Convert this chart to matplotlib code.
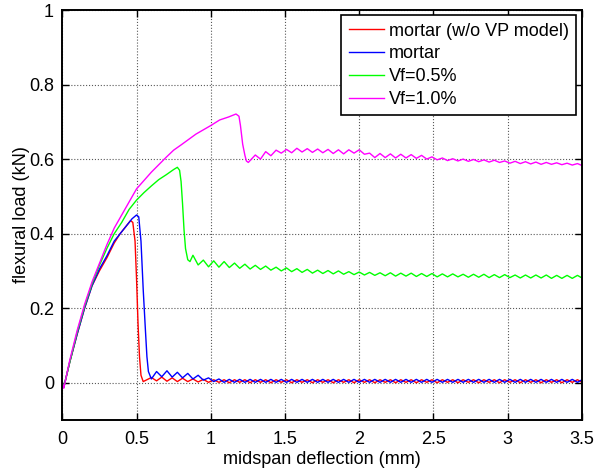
import matplotlib
matplotlib.use('Agg')
import matplotlib.pyplot as plt

# shared deflection grid for the oscillating tails (mm)
tail_x = [0.600, 0.635, 0.670, 0.705, 0.740, 0.775, 0.810, 0.845, 0.880, 0.915, 0.950, 0.985,
          1.020, 1.055, 1.090, 1.125, 1.160, 1.195, 1.230, 1.265, 1.300, 1.335, 1.370, 1.405,
          1.440, 1.475, 1.510, 1.545, 1.580, 1.615, 1.650, 1.685, 1.720, 1.755, 1.790, 1.825,
          1.860, 1.895, 1.930, 1.965, 2.000, 2.035, 2.070, 2.105, 2.140, 2.175, 2.210, 2.245,
          2.280, 2.315, 2.350, 2.385, 2.420, 2.455, 2.490, 2.525, 2.560, 2.595, 2.630, 2.665,
          2.700, 2.735, 2.770, 2.805, 2.840, 2.875, 2.910, 2.945, 2.980, 3.015, 3.050, 3.085,
          3.120, 3.155, 3.190, 3.225, 3.260, 3.295, 3.330, 3.365, 3.400, 3.435, 3.470, 3.505]

# mortar (w/o VP model)
red_head_x = [0, 0.01, 0.05, 0.10, 0.15, 0.20, 0.25, 0.30, 0.35, 0.39, 0.43, 0.46,
              0.475, 0.49, 0.50, 0.51, 0.52, 0.53, 0.545]
red_head_y = [0, -0.012, 0.055, 0.13, 0.20, 0.26, 0.30, 0.335, 0.375, 0.40, 0.42, 0.435,
              0.43, 0.38, 0.28, 0.16, 0.07, 0.02, 0.003]
red_tail_y = [0.014, 0.005, 0.015, 0.004, 0.013, 0.003, 0.012, 0.003, 0.010, 0.002, 0.009, 0.001,
              0.008, 0.001, 0.008, 0.000, 0.008, 0.001, 0.008, 0.000, 0.008, 0.001, 0.008, 0.000,
              0.008, 0.001, 0.008, 0.000, 0.008, 0.001, 0.008, 0.000, 0.008, 0.001, 0.008, 0.000,
              0.008, 0.001, 0.008, 0.000, 0.008, 0.001, 0.008, 0.000, 0.008, 0.001, 0.008, 0.000,
              0.008, 0.001, 0.008, 0.000, 0.008, 0.001, 0.008, 0.000, 0.008, 0.001, 0.008, 0.000,
              0.008, 0.001, 0.008, 0.000, 0.008, 0.001, 0.008, 0.000, 0.008, 0.001, 0.008, 0.000,
              0.008, 0.001, 0.008, 0.000, 0.008, 0.001, 0.008, 0.000, 0.008, 0.001, 0.008, 0.000]

# mortar
blue_head_x = [0, 0.01, 0.05, 0.10, 0.15, 0.20, 0.25, 0.30, 0.35, 0.40, 0.44, 0.47,
               0.50, 0.515, 0.53, 0.545, 0.56, 0.57, 0.58]
blue_head_y = [0, -0.012, 0.055, 0.13, 0.20, 0.26, 0.305, 0.34, 0.38, 0.405, 0.425, 0.44,
               0.45, 0.445, 0.38, 0.25, 0.14, 0.07, 0.03]
blue_tail_y = [0.010, 0.030, 0.016, 0.032, 0.015, 0.028, 0.013, 0.025, 0.010, 0.020, 0.007, 0.013,
               0.003, 0.010, 0.001, 0.009, 0.001, 0.009, 0.001, 0.009, 0.001, 0.009, 0.001, 0.009,
               0.001, 0.009, 0.001, 0.009, 0.001, 0.009, 0.001, 0.009, 0.001, 0.009, 0.001, 0.009,
               0.001, 0.009, 0.001, 0.009, 0.001, 0.009, 0.001, 0.009, 0.001, 0.009, 0.001, 0.009,
               0.001, 0.009, 0.001, 0.009, 0.001, 0.009, 0.001, 0.009, 0.001, 0.009, 0.001, 0.009,
               0.001, 0.009, 0.001, 0.009, 0.001, 0.009, 0.001, 0.009, 0.001, 0.009, 0.001, 0.009,
               0.001, 0.009, 0.001, 0.009, 0.001, 0.009, 0.001, 0.009, 0.001, 0.009, 0.001, 0.009]

# Vf=0.5%
green_head_x = [0, 0.01, 0.05, 0.10, 0.15, 0.20, 0.25, 0.30, 0.35, 0.40, 0.45, 0.50, 0.55,
                0.60, 0.65, 0.70, 0.75, 0.775, 0.79, 0.80, 0.81, 0.82, 0.83, 0.845, 0.86]
green_head_y = [0, -0.012, 0.055, 0.135, 0.205, 0.265, 0.315, 0.36, 0.40, 0.43, 0.465, 0.49, 0.51,
                0.528, 0.545, 0.558, 0.572, 0.578, 0.57, 0.54, 0.48, 0.41, 0.36, 0.33, 0.325]
green_tail_y = [0.342, 0.316, 0.329, 0.311, 0.327, 0.310, 0.325, 0.309, 0.321, 0.307, 0.318, 0.305,
                0.315, 0.304, 0.313, 0.302, 0.310, 0.300, 0.308, 0.298, 0.306, 0.296, 0.304, 0.294,
                0.302, 0.293, 0.301, 0.292, 0.300, 0.291, 0.298, 0.290, 0.297, 0.289, 0.296, 0.288,
                0.295, 0.287, 0.295, 0.286, 0.294, 0.286, 0.294, 0.285, 0.293, 0.285, 0.293, 0.284,
                0.292, 0.284, 0.292, 0.284, 0.291, 0.283, 0.291, 0.283, 0.291, 0.282, 0.290, 0.282,
                0.290, 0.282, 0.289, 0.281, 0.289, 0.281, 0.289, 0.281, 0.289, 0.280, 0.288, 0.280,
                0.288, 0.280, 0.288, 0.280]

# Vf=1.0%
mag_head_x = [0, 0.01, 0.05, 0.10, 0.15, 0.20, 0.25, 0.30, 0.35, 0.40, 0.45, 0.50, 0.60,
              0.70, 0.75, 0.80, 0.90, 1.00, 1.06, 1.12, 1.17, 1.19, 1.20, 1.215, 1.23, 1.24, 1.253]
mag_head_y = [0, -0.015, 0.06, 0.14, 0.21, 0.27, 0.32, 0.37, 0.415, 0.45, 0.485, 0.52, 0.565,
              0.605, 0.624, 0.638, 0.667, 0.69, 0.705, 0.713, 0.721, 0.715, 0.69, 0.64, 0.61, 0.595, 0.591]
mag_tail_y = [0.611, 0.600, 0.620, 0.609, 0.624, 0.616, 0.626, 0.617, 0.629, 0.619, 0.628, 0.618,
              0.627, 0.617, 0.626, 0.615, 0.625, 0.614, 0.625, 0.616, 0.625, 0.613, 0.616, 0.604,
              0.615, 0.604, 0.614, 0.603, 0.613, 0.603, 0.612, 0.602, 0.610, 0.600, 0.606, 0.598,
              0.603, 0.596, 0.601, 0.595, 0.600, 0.594, 0.599, 0.593, 0.598, 0.592, 0.597, 0.591,
              0.595, 0.589, 0.594, 0.588, 0.593, 0.587, 0.592, 0.586, 0.591, 0.586, 0.590, 0.585,
              0.589, 0.584, 0.588, 0.582]

labels = ['mortar (w/o VP model)', 'mortar', 'Vf=0.5%', 'Vf=1.0%']
colors = ['#ff0000', '#0000ff', '#00ff00', '#ff00ff']

plt.rcParams['font.family'] = ['Liberation Sans', 'DejaVu Sans']
plt.rcParams['font.size'] = 13

fig = plt.figure(figsize=(5.95, 4.68), dpi=100)
ax = fig.add_axes([0.1047, 0.1026, 0.8733, 0.876])

curves = [(red_head_x, red_head_y, red_tail_y),
          (blue_head_x, blue_head_y, blue_tail_y),
          (green_head_x, green_head_y, green_tail_y),
          (mag_head_x, mag_head_y, mag_tail_y)]

for (hx, hy, ty), lab, col in zip(curves, labels, colors):
    xs = hx + tail_x[-len(ty):]
    ys = hy + ty
    ax.plot(xs, ys, color=col, lw=1.0, label=lab)

ax.set_xlim(0, 3.5)
ax.set_ylim(-0.1, 1)
ax.set_xticks([0, 0.5, 1, 1.5, 2, 2.5, 3, 3.5])
ax.set_xticklabels(['0', '0.5', '1', '1.5', '2', '2.5', '3', '3.5'])
ax.set_yticks([0, 0.2, 0.4, 0.6, 0.8, 1])
ax.set_yticklabels(['0', '0.2', '0.4', '0.6', '0.8', '1'])
ax.grid(True, linestyle=':', color='0.35', lw=0.8)
ax.tick_params(direction='in', top=True, right=True, length=5, width=1, colors='black')
ax.tick_params(axis='x', pad=8)
ax.tick_params(axis='y', pad=6)
for s in ax.spines.values():
    s.set_linewidth(1.4)
    s.set_color('black')

ax.set_xlabel('midspan deflection (mm)', labelpad=2)
ax.set_ylabel('flexural load (kN)', labelpad=-1)

leg = ax.legend(loc='upper right', fancybox=False, edgecolor='black', framealpha=1,
                borderaxespad=0.3, handlelength=1.95, handletextpad=0.3,
                labelspacing=0.32, borderpad=0.4)
leg.get_frame().set_linewidth(1.2)

fig.savefig('out.png', dpi=100)
